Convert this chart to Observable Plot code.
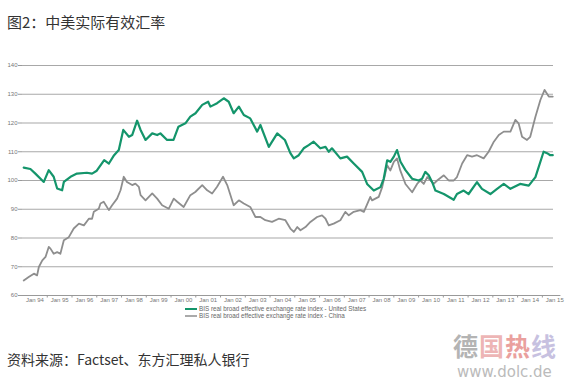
<!DOCTYPE html>
<html><head><meta charset="utf-8">
<script src="https://cdn.jsdelivr.net/npm/d3@7"></script>
<script src="https://cdn.jsdelivr.net/npm/@observablehq/plot@0.6"></script>
<style>
body{margin:0;background:#fff;width:570px;height:385px;position:relative;overflow:hidden;font-family:"Liberation Sans",Arial,sans-serif}
#chart{position:absolute;left:0;top:0}
#title{position:absolute;left:7px;top:11px;font-size:15px;font-family:"Noto Sans CJK SC",sans-serif;color:#333;white-space:nowrap}
#legend{position:absolute;left:185px;top:305px;font-size:6.3px;color:#666;line-height:8px;white-space:nowrap}
#legend .row{display:flex;align-items:center;height:7.5px}
#legend .sw{display:inline-block;width:12px;margin-right:2px}
#caption{position:absolute;left:7px;top:349px;font-size:14px;font-family:"Noto Sans CJK SC",sans-serif;color:#333;white-space:nowrap}
#wm1{position:absolute;left:453px;top:333px;font-size:25px;line-height:25px;font-weight:bold;font-family:"Noto Sans CJK SC",serif;white-space:nowrap;opacity:.55;letter-spacing:1px}
#wm2{position:absolute;left:457px;top:364px;font-size:15px;line-height:16px;font-family:"DejaVu Sans",sans-serif;color:#bbb;white-space:nowrap}
</style></head>
<body>
<div id="title">图2：中美实际有效汇率</div>
<div id="chart"></div>
<div id="legend"></div>
<div id="caption">资料来源：Factset、东方汇理私人银行</div>
<div id="wm1"><span style="color:#777">德</span><span style="color:#e07a7a">国</span><span style="color:#d9534f">热</span><span style="color:#9a8fc8">线</span></div>
<div id="wm2">www.dolc.de</div>
<script>
// ---- data (decimal years, index values) ----
const usYears = [1994.05,1994.32,1994.52,1994.86,1995.06,1995.26,1995.4,1995.6,1995.67,1995.94,1996.2,1996.6,1996.81,1997.0,1997.3,1997.49,1997.7,1997.89,1998.07,1998.3,1998.43,1998.63,1998.77,1998.97,1999.24,1999.44,1999.57,1999.84,2000.1,2000.3,2000.58,2000.78,2000.99,2001.26,2001.5,2001.59,2001.86,2002.13,2002.33,2002.53,2002.74,2002.94,2003.2,2003.48,2003.61,2003.95,2004.29,2004.6,2004.82,2004.96,2005.16,2005.36,2005.56,2005.76,2006.03,2006.24,2006.37,2006.5,2006.84,2007.11,2007.38,2007.72,2007.92,2008.19,2008.46,2008.59,2008.73,2008.86,2009.0,2009.13,2009.27,2009.47,2009.74,2010.0,2010.14,2010.27,2010.41,2010.55,2010.68,2011.02,2011.42,2011.55,2011.82,2012.02,2012.36,2012.56,2012.9,2013.17,2013.44,2013.71,2014.1,2014.45,2014.72,2015.05,2015.19,2015.32,2015.42];
const usValues = [104.5,104,102.4,99.5,103.6,101.3,97.2,96.6,99.5,101.3,102.4,102.7,102.4,103.4,107.1,105.9,108.8,110.6,117.6,115.2,115.8,120.8,117.6,114.1,116.4,115.8,116.4,114.1,114.1,118.7,119.9,122.2,123.4,126.3,127.4,125.7,126.9,128.6,127.4,123.4,125.7,122.8,121.6,117,119.3,111.7,116.4,114.1,109.5,107.7,108.8,111.2,112.3,113.5,111.2,111.7,110,111.2,107.7,108.3,105.9,103,98.8,96.5,97.7,100.6,107,106.5,108.3,110.6,106.5,103.6,100.6,100,100.6,103,101.8,99.4,96.5,95.3,93.3,95.3,96.5,95.3,99.4,97.1,95.3,97.1,98.8,97.1,98.8,98.2,101.2,110,109.5,108.8,108.8];
const cnYears = [1994.05,1994.25,1994.46,1994.59,1994.66,1994.8,1994.93,1995.06,1995.13,1995.26,1995.4,1995.53,1995.67,1995.87,1996.07,1996.28,1996.48,1996.68,1996.81,1996.88,1997.08,1997.15,1997.28,1997.49,1997.62,1997.82,1997.96,1998.09,1998.22,1998.43,1998.56,1998.7,1998.77,1998.97,1999.24,1999.44,1999.64,1999.91,2000.11,2000.25,2000.51,2000.78,2000.98,2001.26,2001.46,2001.66,2001.86,2002.1,2002.27,2002.53,2002.74,2002.94,2003.2,2003.41,2003.61,2003.81,2004.08,2004.35,2004.62,2004.82,2004.96,2005.1,2005.23,2005.43,2005.63,2005.9,2006.1,2006.24,2006.37,2006.57,2006.84,2007.04,2007.18,2007.38,2007.65,2007.79,2008.05,2008.12,2008.39,2008.53,2008.73,2008.86,2009.0,2009.13,2009.26,2009.47,2009.74,2009.94,2010.07,2010.21,2010.35,2010.48,2010.61,2010.75,2011.02,2011.22,2011.42,2011.55,2011.76,2011.96,2012.16,2012.36,2012.63,2012.83,2013.04,2013.24,2013.44,2013.71,2013.91,2014.04,2014.18,2014.38,2014.51,2014.72,2014.92,2015.09,2015.26,2015.42];
const cnValues = [65.2,66.4,67.6,67,69.9,72.2,73.4,76.9,76.3,74.5,75.1,74.5,79.2,80.3,83.3,85,84.4,86.7,86.7,89.1,90.2,92,92.6,89.7,91.4,93.7,96.6,101.3,99.5,98.4,98.9,97.8,94.9,93.1,95.5,93.7,91.4,90.2,93.7,92.6,90.8,94.9,96,98.4,96.6,95.5,97.8,101.3,98.4,91.4,93.1,92,90.8,87.3,87.3,86.2,85.6,86.7,86.2,83.3,82.1,83.8,82.7,83.8,85.6,87.3,87.9,86.7,84.4,85,86.2,89.1,87.9,89.1,89.7,89.1,94.3,93.1,94.3,97.7,105.3,103.5,106.5,107.7,103.5,98.8,95.9,98.8,100,98.8,101.2,100,98.8,100,101.8,100,100,101.2,105.9,108.8,108.3,108.8,107.7,110,113.5,115.8,117,117,121.1,119.9,115.2,114.1,115.2,122.2,128,131.5,129.2,129.2];
const tickYears = [1994,1995,1996,1997,1998,1999,2000,2001,2002,2003,2004,2005,2006,2007,2008,2009,2010,2011,2012,2013,2014,2015];
const tickLabels = ["Jan 94","Jan 95","Jan 96","Jan 97","Jan 98","Jan 99","Jan 00","Jan 01","Jan 02","Jan 03","Jan 04","Jan 05","Jan 06","Jan 07","Jan 08","Jan 09","Jan 10","Jan 11","Jan 12","Jan 13","Jan 14","Jan 15"];
const yTicks = [60,70,80,90,100,110,120,130,140];
const seriesNames = ["BIS real broad effective exchange rate index - United States","BIS real broad effective exchange rate index - China"];
const seriesColors = ["#14956b","#8e8e8e"];

const us = usYears.map((t,i)=>({t, v: usValues[i]}));
const cn = cnYears.map((t,i)=>({t, v: cnValues[i]}));
const labelPos = tickYears.map(y => y + 0.5);
const labelMap = new Map(labelPos.map((p,i)=>[p, tickLabels[i]]));

const chart = Plot.plot({
  width: 570, height: 385,
  marginLeft: 22, marginRight: 17, marginTop: 65, marginBottom: 90,
  style: {fontFamily: "'Liberation Sans', Arial, sans-serif", color: "#666", background: "transparent"},
  x: {domain: [1994, 2015.45], label: null},
  y: {domain: [60, 140], label: null},
  marks: [
    Plot.gridY(yTicks.filter(d => d > 60), {stroke: "#a8a8a8", strokeOpacity: 1, strokeWidth: 1.2}),
    Plot.axisY(yTicks, {tickSize: 4, tickPadding: 1, fontSize: 6, stroke: "#999", fill: "#777", label: null}),
    Plot.ruleY([60], {x1: 1994, x2: 2015.75, stroke: "#999", strokeWidth: 1}),
    Plot.axisX(tickYears.slice(1), {tickSize: 2.5, tickFormat: () => "", stroke: "#999", label: null}),
    Plot.axisX(labelPos, {tickSize: 0, tickPadding: 2, fontSize: 6, fill: "#777", tickFormat: d => labelMap.get(d), label: null}),
    Plot.line(cn, {x: "t", y: "v", stroke: seriesColors[1], strokeWidth: 1.8, curve: "linear"}),
    Plot.line(us, {x: "t", y: "v", stroke: seriesColors[0], strokeWidth: 2.2, curve: "linear"})
  ]
});
document.getElementById("chart").appendChild(chart);

const legend = document.getElementById("legend");
seriesNames.forEach((name, i) => {
  const row = document.createElement("div");
  row.className = "row";
  row.innerHTML = `<svg class="sw" width="12" height="4"><line x1="0" x2="12" y1="2" y2="2" stroke="${seriesColors[i]}" stroke-width="${i===0?2:1.5}"/></svg><span>${name}</span>`;
  legend.appendChild(row);
});
</script>
</body></html>
